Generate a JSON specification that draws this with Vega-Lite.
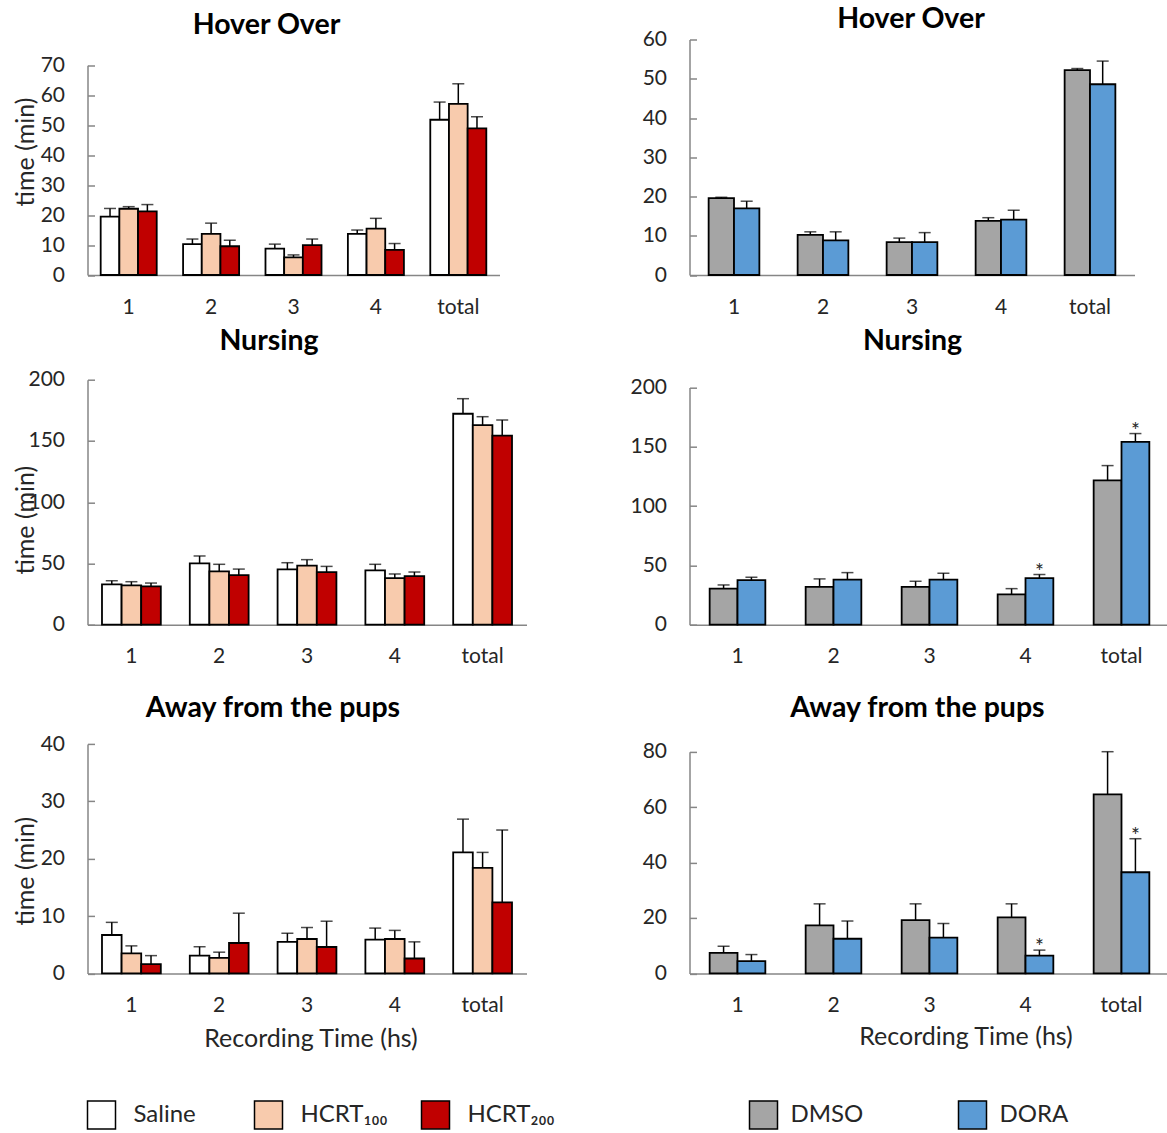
{
  "$schema": "https://vega.github.io/schema/vega-lite/v6.json",
  "background": "white",
  "padding": {"left": 12.5, "top": 4.5, "right": 0, "bottom": 5},
  "bounds": "flush",
  "columns": 2,
  "align": "each",
  "spacing": {"row": 104.2, "column": 163},
  "resolve": {
    "scale": {"color": "independent", "x": "independent", "y": "independent", "xOffset": "independent"},
    "legend": {"color": "independent"}
  },
  "config": {
    "font": "Lato",
    "view": {"stroke": null},
    "axis": {"grid": false, "labelFont": "Lato", "labelFontSize": 21, "labelColor": "#262626", "domainColor": "#868686", "domainWidth": 1.5, "tickColor": "#868686", "tickWidth": 1.5, "titleFont": "Lato", "titleFontSize": 25, "titleFontWeight": "normal", "titleColor": "#262626", "labelOverlap": false},
    "axisX": {"ticks": false, "labelPadding": 21, "labelAngle": 0},
    "axisY": {"ticks": true, "tickSize": -7, "labelPadding": 30},
    "title": {"font": "Lato", "fontSize": 28.5, "fontWeight": "bold", "color": "#000000", "frame": "group", "anchor": "middle", "baseline": "middle"},
    "legend": {"labelFont": "Lato", "labelFontSize": 24, "labelColor": "#262626"}
  },
  "datasets": {
    "p1": [
      {"hr": "1", "grp": "Saline", "mean": 19.5, "err": 22.2, "sig": ""},
      {"hr": "1", "grp": "HCRT₁₀₀", "mean": 22.1, "err": 22.8, "sig": ""},
      {"hr": "1", "grp": "HCRT₂₀₀", "mean": 21.2, "err": 23.5, "sig": ""},
      {"hr": "2", "grp": "Saline", "mean": 10.3, "err": 12.0, "sig": ""},
      {"hr": "2", "grp": "HCRT₁₀₀", "mean": 13.7, "err": 17.3, "sig": ""},
      {"hr": "2", "grp": "HCRT₂₀₀", "mean": 9.6, "err": 11.6, "sig": ""},
      {"hr": "3", "grp": "Saline", "mean": 8.8, "err": 10.3, "sig": ""},
      {"hr": "3", "grp": "HCRT₁₀₀", "mean": 5.9, "err": 6.7, "sig": ""},
      {"hr": "3", "grp": "HCRT₂₀₀", "mean": 10.0, "err": 12.0, "sig": ""},
      {"hr": "4", "grp": "Saline", "mean": 13.7, "err": 15.0, "sig": ""},
      {"hr": "4", "grp": "HCRT₁₀₀", "mean": 15.5, "err": 18.9, "sig": ""},
      {"hr": "4", "grp": "HCRT₂₀₀", "mean": 8.4, "err": 10.5, "sig": ""},
      {"hr": "total", "grp": "Saline", "mean": 51.8, "err": 57.7, "sig": ""},
      {"hr": "total", "grp": "HCRT₁₀₀", "mean": 57.1, "err": 63.8, "sig": ""},
      {"hr": "total", "grp": "HCRT₂₀₀", "mean": 48.9, "err": 52.8, "sig": ""}
    ],
    "p2": [
      {"hr": "1", "grp": "DMSO", "mean": 19.6, "err": 19.8, "sig": ""},
      {"hr": "1", "grp": "DORA", "mean": 17.0, "err": 18.8, "sig": ""},
      {"hr": "2", "grp": "DMSO", "mean": 10.2, "err": 11.0, "sig": ""},
      {"hr": "2", "grp": "DORA", "mean": 8.8, "err": 11.0, "sig": ""},
      {"hr": "3", "grp": "DMSO", "mean": 8.4, "err": 9.4, "sig": ""},
      {"hr": "3", "grp": "DORA", "mean": 8.4, "err": 10.8, "sig": ""},
      {"hr": "4", "grp": "DMSO", "mean": 13.8, "err": 14.6, "sig": ""},
      {"hr": "4", "grp": "DORA", "mean": 14.1, "err": 16.5, "sig": ""},
      {"hr": "total", "grp": "DMSO", "mean": 52.2, "err": 52.6, "sig": ""},
      {"hr": "total", "grp": "DORA", "mean": 48.6, "err": 54.5, "sig": ""}
    ],
    "p3": [
      {"hr": "1", "grp": "Saline", "mean": 32.9, "err": 35.9, "sig": ""},
      {"hr": "1", "grp": "HCRT₁₀₀", "mean": 32.1, "err": 35.1, "sig": ""},
      {"hr": "1", "grp": "HCRT₂₀₀", "mean": 31.3, "err": 34.0, "sig": ""},
      {"hr": "2", "grp": "Saline", "mean": 50.1, "err": 56.1, "sig": ""},
      {"hr": "2", "grp": "HCRT₁₀₀", "mean": 43.5, "err": 49.3, "sig": ""},
      {"hr": "2", "grp": "HCRT₂₀₀", "mean": 40.5, "err": 45.4, "sig": ""},
      {"hr": "3", "grp": "Saline", "mean": 45.2, "err": 50.6, "sig": ""},
      {"hr": "3", "grp": "HCRT₁₀₀", "mean": 48.2, "err": 53.1, "sig": ""},
      {"hr": "3", "grp": "HCRT₂₀₀", "mean": 43.0, "err": 47.6, "sig": ""},
      {"hr": "4", "grp": "Saline", "mean": 44.4, "err": 49.3, "sig": ""},
      {"hr": "4", "grp": "HCRT₁₀₀", "mean": 38.1, "err": 41.4, "sig": ""},
      {"hr": "4", "grp": "HCRT₂₀₀", "mean": 39.7, "err": 43.0, "sig": ""},
      {"hr": "total", "grp": "Saline", "mean": 172.2, "err": 184.5, "sig": ""},
      {"hr": "total", "grp": "HCRT₁₀₀", "mean": 163.0, "err": 169.8, "sig": ""},
      {"hr": "total", "grp": "HCRT₂₀₀", "mean": 154.3, "err": 167.1, "sig": ""}
    ],
    "p4": [
      {"hr": "1", "grp": "DMSO", "mean": 30.4, "err": 33.5, "sig": ""},
      {"hr": "1", "grp": "DORA", "mean": 37.5, "err": 40.0, "sig": ""},
      {"hr": "2", "grp": "DMSO", "mean": 31.8, "err": 38.6, "sig": ""},
      {"hr": "2", "grp": "DORA", "mean": 38.0, "err": 43.9, "sig": ""},
      {"hr": "3", "grp": "DMSO", "mean": 31.8, "err": 36.6, "sig": ""},
      {"hr": "3", "grp": "DORA", "mean": 38.0, "err": 43.4, "sig": ""},
      {"hr": "4", "grp": "DMSO", "mean": 25.6, "err": 30.4, "sig": ""},
      {"hr": "4", "grp": "DORA", "mean": 39.2, "err": 42.3, "sig": "*"},
      {"hr": "total", "grp": "DMSO", "mean": 121.7, "err": 134.1, "sig": ""},
      {"hr": "total", "grp": "DORA", "mean": 154.1, "err": 161.1, "sig": "*"}
    ],
    "p5": [
      {"hr": "1", "grp": "Saline", "mean": 6.7, "err": 8.9, "sig": ""},
      {"hr": "1", "grp": "HCRT₁₀₀", "mean": 3.5, "err": 4.8, "sig": ""},
      {"hr": "1", "grp": "HCRT₂₀₀", "mean": 1.6, "err": 3.1, "sig": ""},
      {"hr": "2", "grp": "Saline", "mean": 3.1, "err": 4.65, "sig": ""},
      {"hr": "2", "grp": "HCRT₁₀₀", "mean": 2.7, "err": 3.7, "sig": ""},
      {"hr": "2", "grp": "HCRT₂₀₀", "mean": 5.3, "err": 10.5, "sig": ""},
      {"hr": "3", "grp": "Saline", "mean": 5.5, "err": 7.0, "sig": ""},
      {"hr": "3", "grp": "HCRT₁₀₀", "mean": 6.0, "err": 8.0, "sig": ""},
      {"hr": "3", "grp": "HCRT₂₀₀", "mean": 4.6, "err": 9.1, "sig": ""},
      {"hr": "4", "grp": "Saline", "mean": 5.9, "err": 7.9, "sig": ""},
      {"hr": "4", "grp": "HCRT₁₀₀", "mean": 6.0, "err": 7.5, "sig": ""},
      {"hr": "4", "grp": "HCRT₂₀₀", "mean": 2.6, "err": 5.5, "sig": ""},
      {"hr": "total", "grp": "Saline", "mean": 21.1, "err": 26.9, "sig": ""},
      {"hr": "total", "grp": "HCRT₁₀₀", "mean": 18.4, "err": 21.1, "sig": ""},
      {"hr": "total", "grp": "HCRT₂₀₀", "mean": 12.4, "err": 25.0, "sig": ""}
    ],
    "p6": [
      {"hr": "1", "grp": "DMSO", "mean": 7.4, "err": 9.8, "sig": ""},
      {"hr": "1", "grp": "DORA", "mean": 4.4, "err": 6.8, "sig": ""},
      {"hr": "2", "grp": "DMSO", "mean": 17.3, "err": 25.1, "sig": ""},
      {"hr": "2", "grp": "DORA", "mean": 12.5, "err": 18.9, "sig": ""},
      {"hr": "3", "grp": "DMSO", "mean": 19.2, "err": 25.1, "sig": ""},
      {"hr": "3", "grp": "DORA", "mean": 12.9, "err": 18.0, "sig": ""},
      {"hr": "4", "grp": "DMSO", "mean": 20.2, "err": 25.1, "sig": ""},
      {"hr": "4", "grp": "DORA", "mean": 6.4, "err": 8.4, "sig": "*"},
      {"hr": "total", "grp": "DMSO", "mean": 64.6, "err": 80.0, "sig": ""},
      {"hr": "total", "grp": "DORA", "mean": 36.5, "err": 48.6, "sig": "*"}
    ]
  },
  "concat": [
    {
      "width": 412, "height": 235.5,
      "title": {"text": "Hover Over", "dx": -27, "offset": 0.3},
      "data": {"name": "p1"},
      "encoding": {
        "x": {"field": "hr", "type": "nominal", "sort": ["1", "2", "3", "4", "total"], "scale": {"paddingInner": 0.32, "paddingOuter": 0.16}, "axis": {"title": null}},
        "xOffset": {"field": "grp", "type": "nominal", "sort": ["Saline", "HCRT₁₀₀", "HCRT₂₀₀"], "scale": {"paddingInner": 0, "paddingOuter": 0}}
      },
      "layer": [
        {"mark": {"type": "bar", "stroke": "black", "strokeWidth": 1.8},
         "encoding": {
           "y": {"field": "mean", "type": "quantitative", "scale": {"domain": [0, 70], "nice": false, "range": [235.5, 25.7]}, "axis": {"values": [0, 10, 20, 30, 40, 50, 60, 70], "labelOverlap": false, "title": "time (min)", "titleX": -62, "titleY": 112, "titleBaseline": "middle", "titleAlign": "center"}},
           "color": {"field": "grp", "type": "nominal", "scale": {"domain": ["Saline", "HCRT₁₀₀", "HCRT₂₀₀"], "range": ["#ffffff", "#f8cbad", "#c00000"]}, "legend": null}
         }},
        {"mark": {"type": "rule", "color": "black", "strokeWidth": 1.5},
         "encoding": {"y": {"field": "mean", "type": "quantitative", "axis": {"values": [0, 10, 20, 30, 40, 50, 60, 70], "labelOverlap": false, "title": "time (min)", "titleX": -62, "titleY": 112, "titleBaseline": "middle", "titleAlign": "center"}}, "y2": {"field": "err"}}},
        {"mark": {"type": "tick", "color": "black", "thickness": 1.5, "size": 12, "orient": "horizontal"},
         "encoding": {"y": {"field": "err", "type": "quantitative", "axis": {"values": [0, 10, 20, 30, 40, 50, 60, 70], "labelOverlap": false, "title": "time (min)", "titleX": -62, "titleY": 112, "titleBaseline": "middle", "titleAlign": "center"}}}}
      ]
    },
    {
      "width": 445, "height": 235.5,
      "title": {"text": "Hover Over", "dx": -1, "offset": 0, "dy": 4.7},
      "data": {"name": "p2"},
      "encoding": {
        "x": {"field": "hr", "type": "nominal", "sort": ["1", "2", "3", "4", "total"], "scale": {"paddingInner": 0.43, "paddingOuter": 0.215}, "axis": {"title": null}},
        "xOffset": {"field": "grp", "type": "nominal", "sort": ["DMSO", "DORA"], "scale": {"paddingInner": 0, "paddingOuter": 0}}
      },
      "layer": [
        {"mark": {"type": "bar", "stroke": "black", "strokeWidth": 1.8},
         "encoding": {
           "y": {"field": "mean", "type": "quantitative", "scale": {"domain": [0, 60], "nice": false, "range": [235.5, 0]}, "axis": {"values": [0, 10, 20, 30, 40, 50, 60], "labelOverlap": false, "title": null}},
           "color": {"field": "grp", "type": "nominal", "scale": {"domain": ["DMSO", "DORA"], "range": ["#a5a5a5", "#5b9bd5"]}, "legend": null}
         }},
        {"mark": {"type": "rule", "color": "black", "strokeWidth": 1.5},
         "encoding": {"y": {"field": "mean", "type": "quantitative", "axis": {"values": [0, 10, 20, 30, 40, 50, 60], "labelOverlap": false, "title": null}}, "y2": {"field": "err"}}},
        {"mark": {"type": "tick", "color": "black", "thickness": 1.5, "size": 12, "orient": "horizontal"},
         "encoding": {"y": {"field": "err", "type": "quantitative", "axis": {"values": [0, 10, 20, 30, 40, 50, 60], "labelOverlap": false, "title": null}}}}
      ]
    },
    {
      "width": 439, "height": 245,
      "title": {"text": "Nursing", "dx": -38, "offset": 13},
      "data": {"name": "p3"},
      "encoding": {
        "x": {"field": "hr", "type": "nominal", "sort": ["1", "2", "3", "4", "total"], "scale": {"paddingInner": 0.33, "paddingOuter": 0.165}, "axis": {"title": null}},
        "xOffset": {"field": "grp", "type": "nominal", "sort": ["Saline", "HCRT₁₀₀", "HCRT₂₀₀"], "scale": {"paddingInner": 0, "paddingOuter": 0}}
      },
      "layer": [
        {"mark": {"type": "bar", "stroke": "black", "strokeWidth": 1.8},
         "encoding": {
           "y": {"field": "mean", "type": "quantitative", "scale": {"domain": [0, 200], "nice": false, "range": [245, 0]}, "axis": {"values": [0, 50, 100, 150, 200], "title": "time (min)", "titleX": -62, "titleY": 140, "titleBaseline": "middle", "titleAlign": "center"}},
           "color": {"field": "grp", "type": "nominal", "scale": {"domain": ["Saline", "HCRT₁₀₀", "HCRT₂₀₀"], "range": ["#ffffff", "#f8cbad", "#c00000"]}, "legend": null}
         }},
        {"mark": {"type": "rule", "color": "black", "strokeWidth": 1.5},
         "encoding": {"y": {"field": "mean", "type": "quantitative", "title": "time (min)"}, "y2": {"field": "err"}}},
        {"mark": {"type": "tick", "color": "black", "thickness": 1.5, "size": 12, "orient": "horizontal"},
         "encoding": {"y": {"field": "err", "type": "quantitative", "title": "time (min)"}}}
      ]
    },
    {
      "width": 480, "height": 245,
      "title": {"text": "Nursing", "dx": -17, "offset": 21},
      "data": {"name": "p4"},
      "encoding": {
        "x": {"field": "hr", "type": "nominal", "sort": ["1", "2", "3", "4", "total"], "scale": {"paddingInner": 0.42, "paddingOuter": 0.21}, "axis": {"title": null}},
        "xOffset": {"field": "grp", "type": "nominal", "sort": ["DMSO", "DORA"], "scale": {"paddingInner": 0, "paddingOuter": 0}}
      },
      "layer": [
        {"mark": {"type": "bar", "stroke": "black", "strokeWidth": 1.8},
         "encoding": {
           "y": {"field": "mean", "type": "quantitative", "scale": {"domain": [0, 200], "nice": false, "range": [245, 7.7]}, "axis": {"values": [0, 50, 100, 150, 200], "title": null}},
           "color": {"field": "grp", "type": "nominal", "scale": {"domain": ["DMSO", "DORA"], "range": ["#a5a5a5", "#5b9bd5"]}, "legend": null}
         }},
        {"mark": {"type": "rule", "color": "black", "strokeWidth": 1.5},
         "encoding": {"y": {"field": "mean", "type": "quantitative", "title": null}, "y2": {"field": "err"}}},
        {"mark": {"type": "tick", "color": "black", "thickness": 1.5, "size": 12, "orient": "horizontal"},
         "encoding": {"y": {"field": "err", "type": "quantitative", "title": null}}},
        {"mark": {"type": "text", "fontSize": 21, "baseline": "alphabetic", "dy": 4, "color": "#262626"},
         "encoding": {"y": {"field": "err", "type": "quantitative", "title": null}, "text": {"field": "sig"}}}
      ]
    },
    {
      "width": 439, "height": 244.5,
      "title": {"text": "Away from the pups", "dx": -34, "offset": 6.2},
      "data": {"name": "p5"},
      "encoding": {
        "x": {"field": "hr", "type": "nominal", "sort": ["1", "2", "3", "4", "total"], "scale": {"paddingInner": 0.33, "paddingOuter": 0.165}, "axis": {"title": "Recording Time (hs)", "titleX": 223, "titleY": 65, "titleBaseline": "middle", "titleAlign": "center"}},
        "xOffset": {"field": "grp", "type": "nominal", "sort": ["Saline", "HCRT₁₀₀", "HCRT₂₀₀"], "scale": {"paddingInner": 0, "paddingOuter": 0}}
      },
      "layer": [
        {"mark": {"type": "bar", "stroke": "black", "strokeWidth": 1.8},
         "encoding": {
           "y": {"field": "mean", "type": "quantitative", "scale": {"domain": [0, 40], "nice": false, "range": [244.5, 15.1]}, "axis": {"values": [0, 10, 20, 30, 40], "title": "time (min)", "titleX": -62, "titleY": 141.8, "titleBaseline": "middle", "titleAlign": "center"}},
           "color": {"field": "grp", "type": "nominal", "scale": {"domain": ["Saline", "HCRT₁₀₀", "HCRT₂₀₀"], "range": ["#ffffff", "#f8cbad", "#c00000"]},
             "legend": {"orient": "none", "legendX": -1, "legendY": 371, "direction": "horizontal", "title": null, "symbolType": "square", "symbolSize": 784, "symbolStrokeColor": "black", "symbolStrokeWidth": 1.5, "symbolOpacity": 1, "labelOffset": 17, "gridAlign": "all", "columnPadding": 30, "padding": 0}}
         }},
        {"mark": {"type": "rule", "color": "black", "strokeWidth": 1.5},
         "encoding": {"y": {"field": "mean", "type": "quantitative", "title": "time (min)"}, "y2": {"field": "err"}}},
        {"mark": {"type": "tick", "color": "black", "thickness": 1.5, "size": 12, "orient": "horizontal"},
         "encoding": {"y": {"field": "err", "type": "quantitative", "title": "time (min)"}}}
      ]
    },
    {
      "width": 480, "height": 244.5,
      "title": {"text": "Away from the pups", "dx": -12, "offset": 6.2},
      "data": {"name": "p6"},
      "encoding": {
        "x": {"field": "hr", "type": "nominal", "sort": ["1", "2", "3", "4", "total"], "scale": {"paddingInner": 0.42, "paddingOuter": 0.21}, "axis": {"title": "Recording Time (hs)", "titleX": 276, "titleY": 63, "titleBaseline": "middle", "titleAlign": "center"}},
        "xOffset": {"field": "grp", "type": "nominal", "sort": ["DMSO", "DORA"], "scale": {"paddingInner": 0, "paddingOuter": 0}}
      },
      "layer": [
        {"mark": {"type": "bar", "stroke": "black", "strokeWidth": 1.8},
         "encoding": {
           "y": {"field": "mean", "type": "quantitative", "scale": {"domain": [0, 80], "nice": false, "range": [244.5, 22.8]}, "axis": {"values": [0, 20, 40, 60, 80], "title": null}},
           "color": {"field": "grp", "type": "nominal", "scale": {"domain": ["DMSO", "DORA"], "range": ["#a5a5a5", "#5b9bd5"]},
             "legend": {"orient": "none", "legendX": 59, "legendY": 371, "direction": "horizontal", "title": null, "symbolType": "square", "symbolSize": 784, "symbolStrokeColor": "black", "symbolStrokeWidth": 1.5, "symbolOpacity": 1, "labelOffset": 12, "gridAlign": "all", "columnPadding": 92, "padding": 0}}
         }},
        {"mark": {"type": "rule", "color": "black", "strokeWidth": 1.5},
         "encoding": {"y": {"field": "mean", "type": "quantitative", "title": null}, "y2": {"field": "err"}}},
        {"mark": {"type": "tick", "color": "black", "thickness": 1.5, "size": 12, "orient": "horizontal"},
         "encoding": {"y": {"field": "err", "type": "quantitative", "title": null}}},
        {"mark": {"type": "text", "fontSize": 21, "baseline": "alphabetic", "dy": 4, "color": "#262626"},
         "encoding": {"y": {"field": "err", "type": "quantitative", "title": null}, "text": {"field": "sig"}}}
      ]
    }
  ]
}
